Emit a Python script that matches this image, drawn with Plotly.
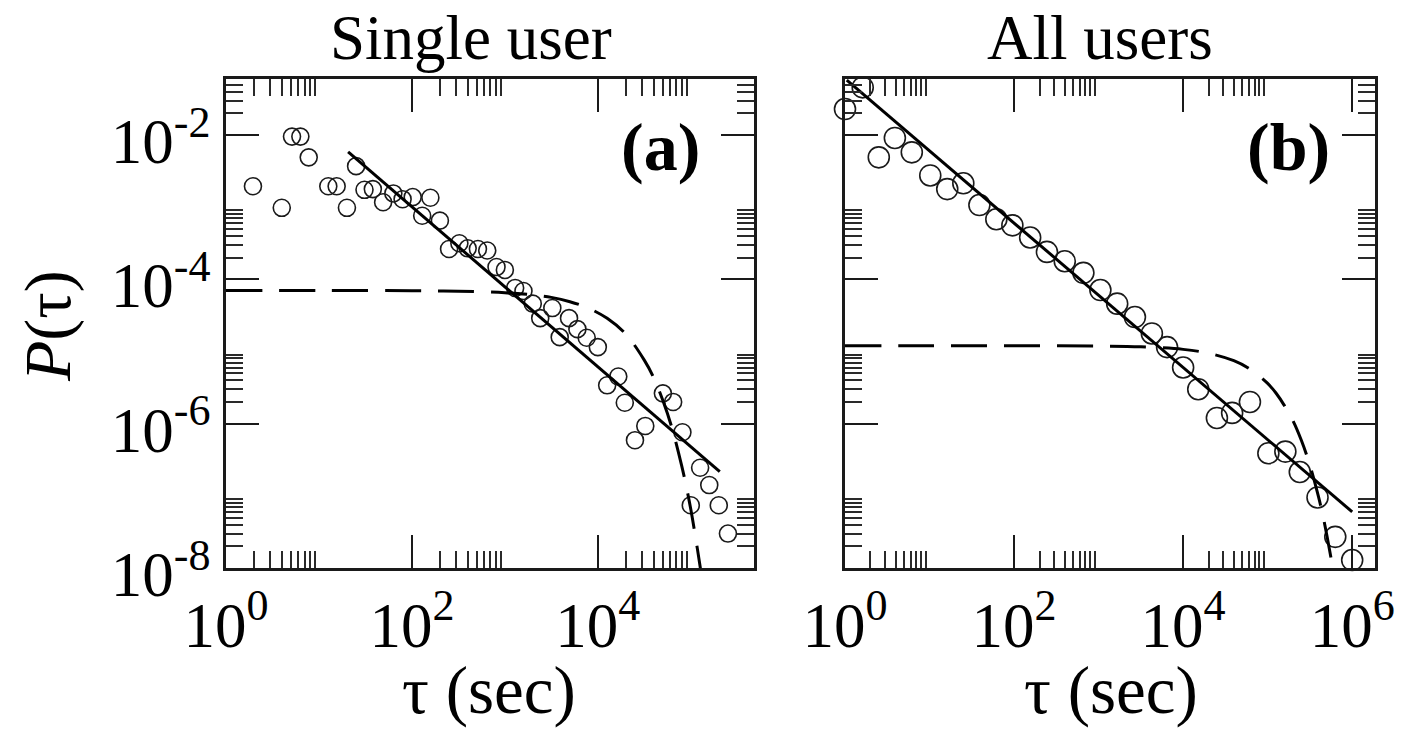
import plotly.graph_objects as go

W, H = 1402, 731

# ---- (a) single user: waiting-time distribution ----
tau_a = [1.95, 3.98, 5.13, 6.31, 7.76, 12.6, 15.5, 20.0, 25.1, 30.9, 38.0, 49.0,
         63.1, 79.4, 102, 129, 158, 200, 251, 324, 398, 513, 646, 813, 1000,
         1290, 1585, 1995, 2400, 3240, 3890, 4900, 6030, 7590, 10000, 12600,
         16600, 19500, 25100, 32400, 50100, 64600, 81300, 126000, 158000,
         100000, 200000, 251000]
p_a = [1.95e-3, 9.8e-4, 9.5e-3, 9.5e-3, 4.9e-3, 1.95e-3, 1.95e-3, 9.8e-4, 3.7e-3,
       1.74e-3, 1.78e-3, 1.17e-3, 1.55e-3, 1.29e-3, 1.38e-3, 7.6e-4, 1.35e-3,
       6.5e-4, 2.63e-4, 3.16e-4, 2.69e-4, 2.63e-4, 2.51e-4, 1.48e-4, 1.35e-4,
       7.6e-5, 6.9e-5, 4.6e-5, 2.9e-5, 4.0e-5, 1.58e-5, 2.9e-5, 2.04e-5, 1.55e-5,
       1.15e-5, 3.4e-6, 4.5e-6, 1.95e-6, 5.9e-7, 9.3e-7, 2.63e-6, 2.0e-6, 7.6e-7,
       2.45e-7, 1.41e-7, 7.4e-8, 7.4e-8, 3.0e-8]

# power-law fit (solid) and exponential reference (dashed)
fit_a_tau = [20.6, 205000]
fit_a_p = [5.83e-3, 2.16e-7]
exp_a_tau = [1, 10, 100, 316, 1000, 2000, 3160, 5010, 7940, 12600, 20000, 31600,
             39800, 50100, 63100, 79400, 89100, 100000, 112000, 126000, 135000]
exp_a_p = [7.0e-5, 7.0e-5, 6.95e-5, 6.85e-5, 6.53e-5, 6.08e-5, 5.62e-5, 4.9e-5,
           3.98e-5, 2.88e-5, 1.74e-5, 7.6e-6, 4.37e-6, 2.09e-6, 8.5e-7, 2.69e-7,
           1.38e-7, 6.5e-8, 2.75e-8, 1.05e-8, 5.6e-9]

# ---- (b) all users ----
tau_b = [1.0, 1.62, 3.89, 2.51, 6.17, 10.2, 16.2, 25.1, 38.9, 61.7, 95.5, 155,
         245, 398, 661, 1050, 1660, 2690, 4270, 6460, 10000, 15100, 25100,
         38000, 61700, 102000, 162000, 240000, 389000, 631000, 1.0e6]
p_b = [2.29e-2, 4.57e-2, 9.1e-3, 4.9e-3, 5.75e-3, 2.75e-3, 1.78e-3, 2.14e-3,
       1.07e-3, 6.8e-4, 5.6e-4, 3.8e-4, 2.4e-4, 1.78e-4, 1.23e-4, 7.1e-5, 4.6e-5,
       3.0e-5, 1.78e-5, 1.15e-5, 6.0e-6, 3.0e-6, 1.2e-6, 1.41e-6, 2.0e-6, 3.9e-7,
       4.1e-7, 2.14e-7, 9.5e-8, 2.7e-8, 1.29e-8]

fit_b_tau = [1.05, 1.0e6]
fit_b_p = [5.75e-2, 6.0e-8]
exp_b_tau = [1, 10, 100, 1000, 3160, 10000, 20000, 39800, 63100, 100000, 126000,
             158000, 200000, 251000, 316000, 398000, 447000, 501000, 562000, 631000]
exp_b_p = [1.2e-5, 1.2e-5, 1.2e-5, 1.19e-5, 1.16e-5, 1.07e-5, 9.46e-6, 7.45e-6,
           5.62e-6, 3.61e-6, 2.64e-6, 1.78e-6, 1.09e-6, 5.83e-7, 2.66e-7, 9.9e-8,
           5.53e-8, 2.87e-8, 1.37e-8, 6.0e-9]

# axis ticks: majors every two decades, minors at 2..9 times each major
x_major = [1, 100, 1e4, 1e6]
x_major_text = ["10<sup>0</sup>", "10<sup>2</sup>", "10<sup>4</sup>", "10<sup>6</sup>"]
y_major = [1e-8, 1e-6, 1e-4, 1e-2]
y_major_text = ["10<sup>-8</sup>", "10<sup>-6</sup>", "10<sup>-4</sup>", "10<sup>-2</sup>"]
x_minor = [k * m for m in x_major for k in range(2, 10)]
y_minor = [k * m for m in y_major for k in range(2, 10)]

INK = "#1a1a1a"
SERIF = "Liberation Serif, Times New Roman, serif"


def log_axis(domain, rng, tickvals, ticktext, minor_vals, show_labels=True, anchor=None):
    return dict(
        type="log", domain=domain, range=rng, anchor=anchor, automargin=False,
        showgrid=False, zeroline=False,
        showline=True, linecolor=INK, linewidth=2.8, mirror="ticks",
        ticks="inside", ticklen=33, tickwidth=1.8, tickcolor=INK,
        tickmode="array", tickvals=tickvals, ticktext=ticktext,
        showticklabels=show_labels,
        tickfont=dict(family=SERIF, size=63, color="black"),
        minor=dict(tickmode="array", tickvals=minor_vals, ticks="inside",
                   ticklen=17, tickwidth=1.6, tickcolor="#2a2a2a", showgrid=False),
    )


fig = go.Figure()

circle = dict(symbol="circle-open", color=INK, line=dict(width=1.6, color=INK))

fig.add_trace(go.Scatter(x=tau_a, y=p_a, mode="markers", cliponaxis=False,
                         marker=dict(size=17, **circle), xaxis="x", yaxis="y"))
fig.add_trace(go.Scatter(x=fit_a_tau, y=fit_a_p, mode="lines",
                         line=dict(color="black", width=3), xaxis="x", yaxis="y"))
fig.add_trace(go.Scatter(x=exp_a_tau, y=exp_a_p, mode="lines", line_shape="spline",
                         line=dict(color="black", width=3, dash="36px,17px"),
                         xaxis="x", yaxis="y"))

fig.add_trace(go.Scatter(x=tau_b, y=p_b, mode="markers", cliponaxis=False,
                         marker=dict(size=21, **circle), xaxis="x2", yaxis="y2"))
fig.add_trace(go.Scatter(x=fit_b_tau, y=fit_b_p, mode="lines",
                         line=dict(color="black", width=3), xaxis="x2", yaxis="y2"))
fig.add_trace(go.Scatter(x=exp_b_tau, y=exp_b_p, mode="lines", line_shape="spline",
                         line=dict(color="black", width=3, dash="36px,17px"),
                         xaxis="x2", yaxis="y2"))

xa_dom = [226 / W, 754 / W]
xb_dom = [845 / W, 1375 / W]
y_dom = [(H - 568) / H, (H - 79) / H]
y_rng = [-8, -1.224]

xaxis = log_axis(xa_dom, [0, 5.68], x_major, x_major_text, x_minor, anchor="y")
xaxis.update(ticklabelstandoff=0)
xaxis2 = log_axis(xb_dom, [0, 6.27], x_major, x_major_text, x_minor, anchor="y2")
xaxis2.update(ticklabelstandoff=0)
yaxis = log_axis(y_dom, y_rng, y_major, y_major_text, y_minor, anchor="x")
yaxis.update(ticklabelshift=6)
yaxis2 = log_axis(y_dom, y_rng, y_major, y_major_text, y_minor,
                  show_labels=False, anchor="x2")

label_font = dict(family=SERIF, size=68, color="black")
head_font = dict(family=SERIF, size=63, color="black")
xtitle_font = dict(family=SERIF, size=67, color="black")
ytitle_font = dict(family=SERIF, size=66, color="black")


def paper(px, py):
    return dict(x=px / W, y=1 - py / H, xref="paper", yref="paper", showarrow=False)


fig.update_layout(
    width=W, height=H,
    margin=dict(l=0, r=0, t=0, b=0),
    paper_bgcolor="white", plot_bgcolor="white",
    showlegend=False,
    xaxis=xaxis, yaxis=yaxis, xaxis2=xaxis2, yaxis2=yaxis2,
    annotations=[
        dict(text="Single user", font=head_font, xanchor="center", yanchor="middle",
             **paper(471, 38)),
        dict(text="All users", font=head_font, xanchor="center", yanchor="middle",
             **paper(1100, 38)),
        dict(text="<b>(a)</b>", font=label_font, xanchor="right", yanchor="middle",
             **paper(702, 147)),
        dict(text="<b>(b)</b>", font=label_font, xanchor="right", yanchor="middle",
             **paper(1332, 147)),
        dict(text="τ (sec)", font=xtitle_font, xanchor="center", yanchor="bottom",
             **paper(489, 730)),
        dict(text="τ (sec)", font=xtitle_font, xanchor="center", yanchor="bottom",
             **paper(1111, 730)),
        dict(text="<i>P</i>(τ)", font=ytitle_font, textangle=-90,
             xanchor="center", yanchor="middle", **paper(48, 326)),
    ],
)

fig.write_html("out.html")
